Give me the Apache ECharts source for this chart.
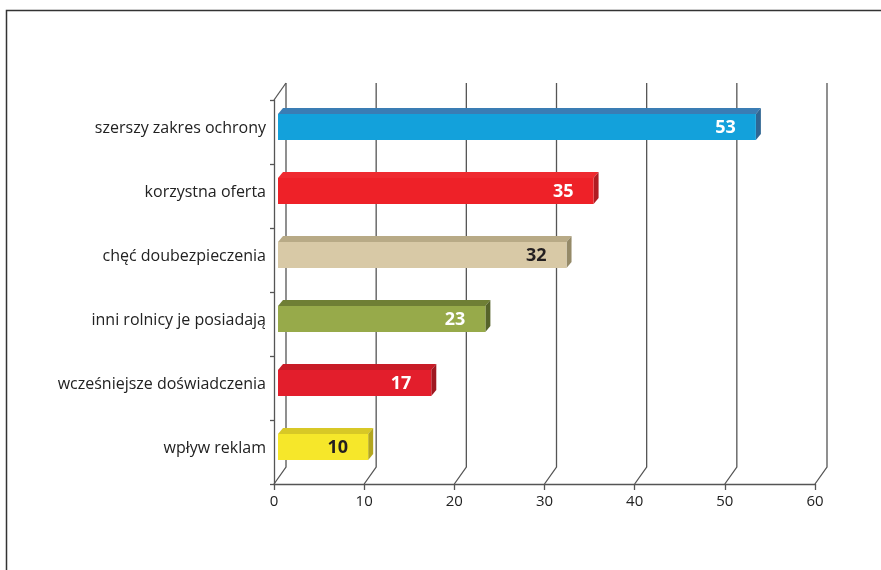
<!DOCTYPE html>
<html>
<head>
<meta charset="utf-8">
<script src="https://cdn.jsdelivr.net/npm/echarts@6/dist/echarts.min.js"></script>
<style>
  html, body { margin: 0; padding: 0; background: #fff; }
  #chart { width: 881px; height: 570px; }
</style>
</head>
<body>
<div id="chart"></div>
<script>
// Reasons for choosing the insurance (top to bottom)
const categories = [
  'szerszy zakres ochrony',
  'korzystna oferta',
  'chęć doubezpieczenia',
  'inni rolnicy je posiadają',
  'wcześniejsze doświadczenia',
  'wpływ reklam'
];
const values = [53, 35, 32, 23, 17, 10];
const xTicks = [0, 10, 20, 30, 40, 50, 60];

// Face colours per bar: front, top, side, label
const frontColors = ['#13a1db', '#ee2128', '#d8c9a6', '#97aa4a', '#e31e2c', '#f6e72a'];
const topColors   = ['#3a7db4', '#ef2a30', '#b8aa86', '#6f7f35', '#c81c27', '#d8c826'];
const sideColors  = ['#2f6693', '#b01c22', '#958a68', '#56632a', '#9f1820', '#b3a61f'];
const labelColors = ['#ffffff', '#ffffff', '#231f20', '#ffffff', '#ffffff', '#231f20'];

const DEPTH_X = 12, DEPTH_Y = 17;      // back wall offset
const BAR_DX = 5, BAR_DY = 6;          // bar depth
const BAR_SHIFT_X = 4, BAR_SHIFT_Y = 5; // bar front face offset from the front plane
const AXIS_COLOR = '#555555';
const FONT = '"Open Sans"';

const chart = echarts.init(document.getElementById('chart'));

chart.setOption({
  animation: false,
  backgroundColor: '#ffffff',
  textStyle: { fontFamily: FONT },
  grid: { left: 274, right: 66, top: 100, bottom: 86 },
  xAxis: {
    type: 'value',
    min: 0, max: 60, interval: 10,
    axisLine: { show: true, lineStyle: { color: AXIS_COLOR, width: 1.3 } },
    axisTick: { show: true, length: 6, lineStyle: { color: AXIS_COLOR, width: 1.3 } },
    axisLabel: { color: '#222', fontSize: 15, margin: 10, fontFamily: FONT },
    splitLine: { show: false }
  },
  yAxis: {
    type: 'category',
    inverse: true,
    data: categories,
    axisLine: { show: true, lineStyle: { color: AXIS_COLOR, width: 1.3 } },
    axisTick: { show: true, length: 4, lineStyle: { color: AXIS_COLOR, width: 1.3 } },
    axisLabel: {
      margin: 8,
      // labels sit level with the bar faces, slightly above the band centre
      formatter: function (value) { return '{c|' + value + '}'; },
      rich: {
        c: { color: '#222', fontSize: 16, fontFamily: FONT, padding: [0, 0, 8, 0] }
      }
    },
    splitLine: { show: false }
  },
  graphic: [
    // outer frame (top and left edges)
    {
      type: 'polyline',
      shape: { points: [[6.5, 570], [6.5, 10.5], [881, 10.5]] },
      style: { stroke: '#333', lineWidth: 1.5, fill: null },
      silent: true
    }
  ],
  series: [
    {
      // back wall gridlines with their floor connectors
      type: 'custom',
      coordinateSystem: 'cartesian2d',
      silent: true,
      z: 1,
      data: xTicks.map(v => [v, 0]),
      renderItem: function (params, api) {
        const cs = params.coordSys;
        const x = api.coord([api.value(0), 0])[0];
        const top = cs.y, bottom = cs.y + cs.height;
        const style = { stroke: AXIS_COLOR, lineWidth: 1.3, fill: null };
        const children = [{
          type: 'polyline',
          shape: { points: [[x, bottom], [x + DEPTH_X, bottom - DEPTH_Y], [x + DEPTH_X, top - DEPTH_Y]] },
          style: style
        }];
        if (params.dataIndex === 0) {
          children.push({
            type: 'line',
            shape: { x1: x, y1: top, x2: x + DEPTH_X, y2: top - DEPTH_Y },
            style: style
          });
        }
        return { type: 'group', children: children };
      }
    },
    {
      // 3D bars
      type: 'custom',
      coordinateSystem: 'cartesian2d',
      z: 3,
      data: values.map((v, i) => [v, i]),
      encode: { x: 0, y: 1 },
      renderItem: function (params, api) {
        const i = params.dataIndex;
        const v = api.value(0);
        const start = api.coord([0, i]);
        const end = api.coord([v, i]);
        const band = api.size([0, 1])[1];
        const h = band * 0.41;
        const x0 = start[0] + BAR_SHIFT_X;
        const x1 = end[0] + BAR_SHIFT_X;
        const yTop = start[1] - BAR_SHIFT_Y - h / 2;
        const yBot = yTop + h;
        return {
          type: 'group',
          children: [
            {
              type: 'polygon',
              shape: { points: [[x0, yTop], [x0 + BAR_DX, yTop - BAR_DY], [x1 + BAR_DX, yTop - BAR_DY], [x1, yTop]] },
              style: { fill: topColors[i] }
            },
            {
              type: 'polygon',
              shape: { points: [[x1, yTop], [x1 + BAR_DX, yTop - BAR_DY], [x1 + BAR_DX, yBot - BAR_DY], [x1, yBot]] },
              style: { fill: sideColors[i] }
            },
            {
              type: 'rect',
              shape: { x: x0, y: yTop, width: x1 - x0, height: h },
              style: { fill: frontColors[i] }
            },
            {
              type: 'text',
              x: x1 - 20,
              y: yTop + h / 2 + 1,
              style: {
                text: String(v),
                fill: labelColors[i],
                font: 'bold 18px "Open Sans"',
                align: 'right',
                verticalAlign: 'middle'
              }
            }
          ]
        };
      }
    }
  ]
});
</script>
</body>
</html>
